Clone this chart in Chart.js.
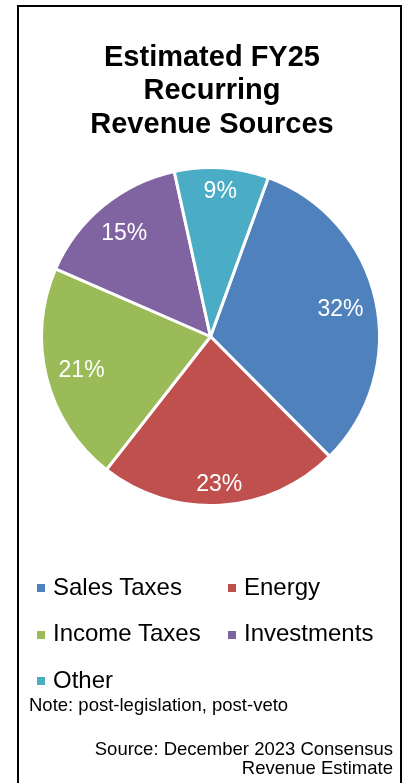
<!DOCTYPE html>
<html>
<head>
<meta charset="utf-8">
<script src="https://cdn.jsdelivr.net/npm/chart.js@4.4.1/dist/chart.umd.min.js"></script>
<style>
  html, body { margin: 0; padding: 0; background: #fff; }
  body { width: 405px; height: 783px; position: relative; overflow: hidden; font-family: "Liberation Sans", Arial, sans-serif; color: #000; }
  #frame { position: absolute; left: 17px; top: 5px; width: 381px; height: 800px; border: 2px solid #000; }
  #pie { position: absolute; left: 0; top: 0; }
  .title { position: absolute; left: 0; width: 424px; top: 39.9px; text-align: center; font-weight: bold; font-size: 29px; line-height: 33.6px; }
  .leg { position: absolute; font-size: 24px; line-height: 24px; white-space: nowrap; }
  .mk { position: absolute; width: 8px; height: 8px; }
  .note { position: absolute; left: 29px; top: 696px; font-size: 18.5px; line-height: 18.5px; white-space: nowrap; }
  .src { position: absolute; right: 12px; top: 738.8px; font-size: 18.5px; line-height: 19.5px; text-align: right; white-space: nowrap; }
</style>
</head>
<body>
<div id="frame"></div>
<canvas id="pie" width="405" height="783"></canvas>
<div class="title">Estimated FY25<br>Recurring<br>Revenue Sources</div>
<div id="legend"></div>
<div class="note">Note: post-legislation, post-veto</div>
<div class="src">Source: December 2023 Consensus<br>Revenue Estimate</div>
<script>
const categories = ['Sales Taxes', 'Energy', 'Income Taxes', 'Investments', 'Other'];
const shares = [32, 23, 21, 15, 9];
const colors = ['#4F81BD', '#C0504D', '#9BBB59', '#8064A2', '#4BACC6'];

// legend, two columns like the original
const legendEl = document.getElementById('legend');
const colX = [37, 228];
const rowBase = [595, 641.7, 688];
categories.forEach((name, i) => {
  const col = i % 2, row = Math.floor(i / 2);
  const mk = document.createElement('div');
  mk.className = 'mk';
  mk.style.left = colX[col] + 'px';
  mk.style.top = (rowBase[row] - 11) + 'px';
  mk.style.background = colors[i];
  legendEl.appendChild(mk);
  const t = document.createElement('div');
  t.className = 'leg';
  t.style.left = (colX[col] + 16) + 'px';
  t.style.top = (rowBase[row] - 20.3) + 'px';
  t.textContent = name;
  legendEl.appendChild(t);
});

// percent labels placed inside the slice end, kept a margin from the edge
const pctLabels = {
  id: 'pctLabels',
  afterDatasetsDraw(chart) {
    const ctx = chart.ctx;
    const meta = chart.getDatasetMeta(0);
    ctx.save();
    ctx.font = '23px "Liberation Sans", Arial, sans-serif';
    ctx.fillStyle = '#fff';
    ctx.textAlign = 'center';
    ctx.textBaseline = 'middle';
    meta.data.forEach((arc, i) => {
      const p = arc.getProps(['x', 'y', 'startAngle', 'endAngle', 'outerRadius']);
      const mid = (p.startAngle + p.endAngle) / 2;
      const txt = shares[i] + '%';
      const hw = ctx.measureText(txt).width / 2, hh = 8.5;
      const lim = p.outerRadius - 11;
      let d = 0;
      for (let k = 0; k < 200; k++) {
        const cx = Math.cos(mid) * (d + 1), cy = Math.sin(mid) * (d + 1);
        let far = 0;
        [[-hw, -hh], [hw, -hh], [-hw, hh], [hw, hh]].forEach(c => {
          far = Math.max(far, Math.hypot(cx + c[0], cy + c[1]));
        });
        if (far > lim) break;
        d += 1;
      }
      ctx.fillText(txt, p.x + Math.cos(mid) * d, p.y + Math.sin(mid) * d + 2);
    });
    ctx.restore();
  }
};

new Chart(document.getElementById('pie').getContext('2d'), {
  type: 'pie',
  data: {
    labels: categories,
    datasets: [{
      data: shares,
      backgroundColor: colors,
      borderColor: '#fff',
      borderWidth: 3,
      hoverOffset: 0
    }]
  },
  options: {
    responsive: false,
    animation: false,
    rotation: 20,
    layout: { padding: { left: 40, top: 166, right: 24, bottom: 276 } },
    plugins: { legend: { display: false }, tooltip: { enabled: false }, title: { display: false } }
  },
  plugins: [pctLabels]
});
</script>
</body>
</html>
